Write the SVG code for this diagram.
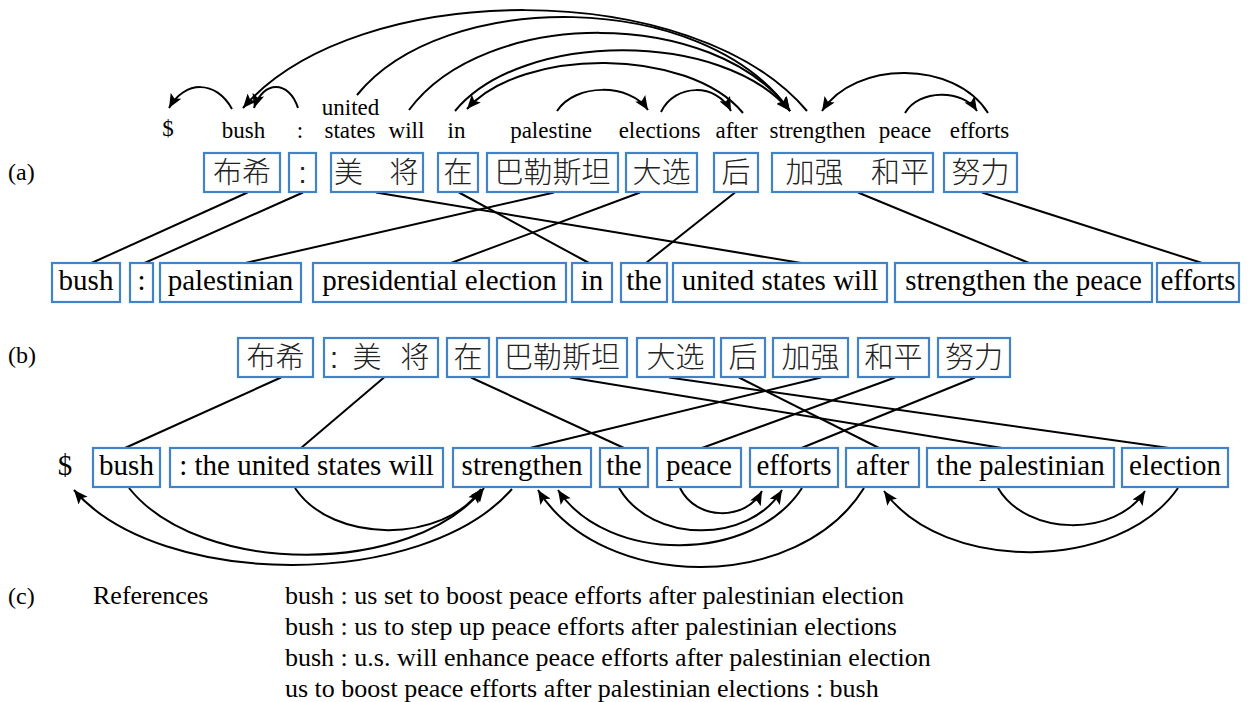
<svg xmlns="http://www.w3.org/2000/svg" width="1248" height="702" viewBox="0 0 1248 702">
<style>
.box{fill:#fff;stroke:#4282C8;stroke-width:2.2}
.en{font-family:"Liberation Serif","Times New Roman",serif;font-size:29px;text-anchor:middle;fill:#000}
.top{font-family:"Liberation Serif","Times New Roman",serif;font-size:23px;text-anchor:middle;fill:#000}
.zh{font-family:"Liberation Sans","Noto Sans CJK SC",sans-serif;font-size:29px;font-weight:300;text-anchor:middle;fill:#222}
.lbl{font-family:"Liberation Serif","Times New Roman",serif;font-size:24px;fill:#000}
.ref{font-family:"Liberation Serif","Times New Roman",serif;font-size:26px;fill:#000}
.ln{stroke:#000;stroke-width:2;fill:none}
.arc{stroke:#000;stroke-width:2;fill:none;marker-end:url(#ah)}
</style>
<defs>
<marker id="ah" markerUnits="userSpaceOnUse" markerWidth="15" markerHeight="12" refX="14" refY="6" orient="auto" viewBox="0 0 15 12">
<path d="M0,0 L14,6 L0,12 L3,6 Z" fill="#000"/>
</marker>
</defs>
<rect width="1248" height="702" fill="#fff"/>

<g id="labels">
<text class="lbl" x="8" y="180">(a)</text>
<text class="lbl" x="8" y="363">(b)</text>
<text class="lbl" x="8" y="604">(c)</text>
</g>

<g id="connectors">
<path class="arc" d="M232,109 C216,80 185,80 169,108"/>
<path class="arc" d="M298,108 C289,80 263,80 254,108"/>
<path class="arc" d="M807,111 C694,-23 356,-23 243,108"/>
<path class="arc" d="M357,95 C443,-11.5 703,-11.5 790,111"/>
<path class="arc" d="M409,110 C485,7 714,7 790,111"/>
<path class="arc" d="M455,111 C522,30 723,30 790,111"/>
<path class="arc" d="M743,113 C688,47 522,47 467,109"/>
<path class="arc" d="M557,111 C575,83 630,83 648,110"/>
<path class="arc" d="M661,112 C675,83 717,83 731,111"/>
<path class="arc" d="M988,113 C955,60 855,60 822,111"/>
<path class="arc" d="M905,113 C919,89 963,89 977,111"/>
<line class="ln" x1="247.5" y1="192.5" x2="91.5" y2="263"/>
<line class="ln" x1="303" y1="192.5" x2="144.5" y2="263"/>
<line class="ln" x1="376" y1="192.5" x2="801" y2="263"/>
<line class="ln" x1="459" y1="192.5" x2="589" y2="263"/>
<line class="ln" x1="554" y1="192.5" x2="245.5" y2="263"/>
<line class="ln" x1="640" y1="192.5" x2="451" y2="263"/>
<line class="ln" x1="735" y1="192.5" x2="646" y2="263"/>
<line class="ln" x1="858" y1="192.5" x2="1029" y2="263"/>
<line class="ln" x1="982" y1="192.5" x2="1202" y2="263"/>
<line class="ln" x1="281" y1="377.5" x2="125" y2="448"/>
<line class="ln" x1="384" y1="377.5" x2="301" y2="448"/>
<line class="ln" x1="471" y1="377.5" x2="624" y2="448"/>
<line class="ln" x1="570" y1="377.5" x2="1002" y2="448"/>
<line class="ln" x1="669" y1="377.5" x2="1169" y2="448"/>
<line class="ln" x1="739" y1="377.5" x2="879" y2="448"/>
<line class="ln" x1="821" y1="377.5" x2="530" y2="448"/>
<line class="ln" x1="895" y1="377.5" x2="702" y2="448"/>
<line class="ln" x1="975" y1="377.5" x2="801.5" y2="448"/>
<path class="arc" d="M512,489 C424,590 160,590 74,490"/>
<path class="arc" d="M129,488 C200,577 413,577 484,488"/>
<path class="arc" d="M295,488 C332,544 444,544 481,489"/>
<path class="arc" d="M619,488 C652,544 749,544 782,490"/>
<path class="arc" d="M680,488 C696,521 746,521 762,491"/>
<path class="arc" d="M802,488 C753,564 607,564 558,490"/>
<path class="arc" d="M864,488 C799,593 603,593 538,490"/>
<path class="arc" d="M1178,488 C1119,573 943,573 884,491"/>
<path class="arc" d="M998,488 C1027,537 1116,537 1145,491"/>
</g>

<g id="a-top-dollar"><text class="top" x="168" y="136">$</text></g>
<g id="a-top-bush"><text class="top" x="243.5" y="138">bush</text></g>
<g id="a-top-colon"><text class="top" x="300" y="138">:</text></g>
<g id="a-top-united-states"><text class="top" x="350.5" y="115">united</text><text class="top" x="350" y="138">states</text></g>
<g id="a-top-will"><text class="top" x="406.5" y="138">will</text></g>
<g id="a-top-in"><text class="top" x="456.5" y="138">in</text></g>
<g id="a-top-palestine"><text class="top" x="551" y="138">palestine</text></g>
<g id="a-top-elections"><text class="top" x="659.5" y="138">elections</text></g>
<g id="a-top-after"><text class="top" x="736.5" y="138">after</text></g>
<g id="a-top-strengthen"><text class="top" x="817.5" y="138">strengthen</text></g>
<g id="a-top-peace"><text class="top" x="905" y="138">peace</text></g>
<g id="a-top-efforts"><text class="top" x="979.5" y="138">efforts</text></g>

<g id="a-zh-bushi"><rect class="box" x="204" y="153" width="76" height="39"/><text class="zh" x="242" y="183">布希</text></g>
<g id="a-zh-colon"><rect class="box" x="289" y="153" width="27" height="39"/><text class="zh" x="302.5" y="183">:</text></g>
<g id="a-zh-mei-jiang"><rect class="box" x="331" y="153" width="92" height="39"/><text class="zh" y="183"><tspan x="352.5">美</tspan> <tspan x="404">将</tspan></text></g>
<g id="a-zh-zai"><rect class="box" x="438" y="153" width="40" height="39"/><text class="zh" x="458" y="183">在</text></g>
<g id="a-zh-balesitan"><rect class="box" x="487" y="153" width="131" height="39"/><text class="zh" x="552.5" y="183">巴勒斯坦</text></g>
<g id="a-zh-daxuan"><rect class="box" x="626" y="153" width="71" height="39"/><text class="zh" x="661.5" y="183">大选</text></g>
<g id="a-zh-hou"><rect class="box" x="714" y="153" width="44" height="39"/><text class="zh" x="736" y="183">后</text></g>
<g id="a-zh-jiaqiang-heping"><rect class="box" x="772" y="153" width="161" height="39"/><text class="zh" y="183"><tspan x="818.5">加强</tspan> <tspan x="900">和平</tspan></text></g>
<g id="a-zh-nuli"><rect class="box" x="944" y="153" width="73" height="39"/><text class="zh" x="980.5" y="183">努力</text></g>

<g id="a-en-bush"><rect class="box" x="52" y="263" width="68" height="39"/><text class="en" x="86" y="290">bush</text></g>
<g id="a-en-colon"><rect class="box" x="130" y="263" width="23" height="39"/><text class="en" x="141.5" y="290">:</text></g>
<g id="a-en-palestinian"><rect class="box" x="160" y="263" width="141" height="39"/><text class="en" x="230.5" y="290">palestinian</text></g>
<g id="a-en-presidential-election"><rect class="box" x="313" y="263" width="253" height="39"/><text class="en" x="439.5" y="290">presidential election</text></g>
<g id="a-en-in"><rect class="box" x="572" y="263" width="40" height="39"/><text class="en" x="592" y="290">in</text></g>
<g id="a-en-the"><rect class="box" x="621" y="263" width="46" height="39"/><text class="en" x="644" y="290">the</text></g>
<g id="a-en-united-states-will"><rect class="box" x="673" y="263" width="214" height="39"/><text class="en" x="780" y="290">united states will</text></g>
<g id="a-en-strengthen-the-peace"><rect class="box" x="895" y="263" width="257" height="39"/><text class="en" x="1023.5" y="290">strengthen the peace</text></g>
<g id="a-en-efforts"><rect class="box" x="1157" y="263" width="82" height="39"/><text class="en" x="1198" y="290">efforts</text></g>

<g id="b-zh-bushi"><rect class="box" x="238" y="338" width="75" height="39"/><text class="zh" x="275.5" y="368">布希</text></g>
<g id="b-zh-colon-mei-jiang"><rect class="box" x="324" y="338" width="114" height="39"/><text class="zh" y="368"><tspan x="338">:</tspan> <tspan x="371">美</tspan> <tspan x="415">将</tspan></text></g>
<g id="b-zh-zai"><rect class="box" x="447" y="338" width="42" height="39"/><text class="zh" x="468" y="368">在</text></g>
<g id="b-zh-balesitan"><rect class="box" x="497" y="338" width="130" height="39"/><text class="zh" x="562" y="368">巴勒斯坦</text></g>
<g id="b-zh-daxuan"><rect class="box" x="637" y="338" width="77" height="39"/><text class="zh" x="675.5" y="368">大选</text></g>
<g id="b-zh-hou"><rect class="box" x="721" y="338" width="44" height="39"/><text class="zh" x="743" y="368">后</text></g>
<g id="b-zh-jiaqiang"><rect class="box" x="773" y="338" width="75" height="39"/><text class="zh" x="810.5" y="368">加强</text></g>
<g id="b-zh-heping"><rect class="box" x="858" y="338" width="71" height="39"/><text class="zh" x="893.5" y="368">和平</text></g>
<g id="b-zh-nuli"><rect class="box" x="938" y="338" width="72" height="39"/><text class="zh" x="974" y="368">努力</text></g>

<g id="b-en-dollar"><text class="en" x="65" y="475">$</text></g>
<g id="b-en-bush"><rect class="box" x="93" y="448" width="67" height="39"/><text class="en" x="126.5" y="475">bush</text></g>
<g id="b-en-colon-the-united-states-will"><rect class="box" x="170" y="448" width="273" height="39"/><text class="en" x="306.5" y="475">: the united states will</text></g>
<g id="b-en-strengthen"><rect class="box" x="453" y="448" width="138" height="39"/><text class="en" x="522" y="475">strengthen</text></g>
<g id="b-en-the"><rect class="box" x="600" y="448" width="48" height="39"/><text class="en" x="624" y="475">the</text></g>
<g id="b-en-peace"><rect class="box" x="657" y="448" width="84" height="39"/><text class="en" x="699" y="475">peace</text></g>
<g id="b-en-efforts"><rect class="box" x="750" y="448" width="88" height="39"/><text class="en" x="794" y="475">efforts</text></g>
<g id="b-en-after"><rect class="box" x="846" y="448" width="73" height="39"/><text class="en" x="882.5" y="475">after</text></g>
<g id="b-en-the-palestinian"><rect class="box" x="927" y="448" width="187" height="39"/><text class="en" x="1020.5" y="475">the palestinian</text></g>
<g id="b-en-election"><rect class="box" x="1122" y="448" width="106" height="39"/><text class="en" x="1175" y="475">election</text></g>

<g id="c-references">
<text class="ref" x="93" y="604">References</text>
<text class="ref" x="285" y="604">bush : us set to boost peace efforts after palestinian election</text>
<text class="ref" x="285" y="635">bush : us to step up peace efforts after palestinian elections</text>
<text class="ref" x="285" y="666">bush : u.s. will enhance peace efforts after palestinian election</text>
<text class="ref" x="285" y="697">us to boost peace efforts after palestinian elections : bush</text>
</g>
</svg>
